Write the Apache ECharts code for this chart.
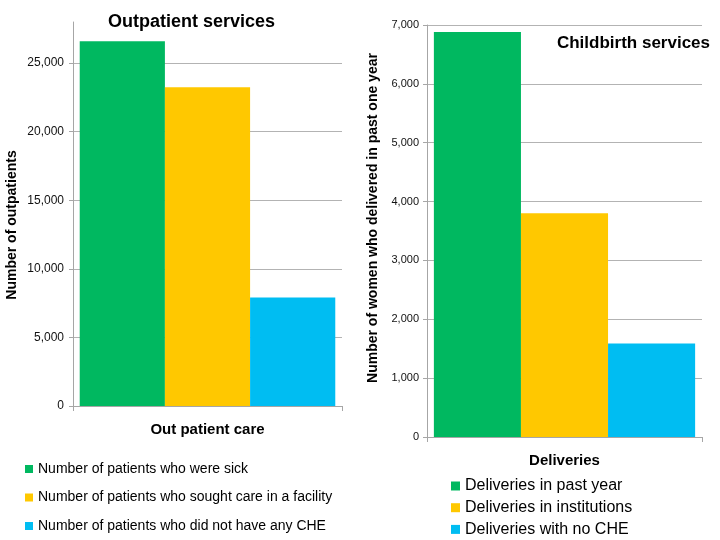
<!DOCTYPE html>
<html><head><meta charset="utf-8">
<script src="https://cdn.jsdelivr.net/npm/echarts@6/dist/echarts.min.js"></script>
<style>html,body{margin:0;padding:0;background:#fff}#c{width:720px;height:540px}</style>
</head><body><div id="c"></div>
<script>
const opCategories = ['Out patient care'];
const opSeriesNames = ['Number of patients who were sick','Number of patients who sought care in a facility','Number of patients who did not have any CHE'];
const opValues = [26600, 23250, 7920];
const cbCategories = ['Deliveries'];
const cbSeriesNames = ['Deliveries in past year','Deliveries in institutions','Deliveries with no CHE'];
const cbValues = [6880, 3800, 1590];
const colors = ['#00b860','#ffc800','#00bdf2'];

const FONT = 'Liberation Sans, Arial, sans-serif';
const fmt = v => Number(v).toLocaleString('en-US');
const chart = echarts.init(document.getElementById('c'));

function makeSeries(names, vals, idx){
  return names.map((n,i)=>({
    name:n, type:'bar', xAxisIndex:idx, yAxisIndex:idx,
    data:[vals[i]], barGap:'0%', barCategoryGap:'5%',
    itemStyle:{color:colors[i]}
  }));
}

const legends = [];
opSeriesNames.forEach((n,i)=>legends.push({data:[n], orient:'vertical', left:25, top:462 + i*28.5, padding:0,
  itemWidth:8, itemHeight:8, itemGap:10, textStyle:{fontSize:14, color:'#000', fontFamily:FONT}, icon:'rect'}));
cbSeriesNames.forEach((n,i)=>legends.push({data:[n], orient:'vertical', left:451, top:478 + i*21.7, padding:0,
  itemWidth:9, itemHeight:9, textStyle:{fontSize:16, color:'#000', fontFamily:FONT}, icon:'rect'}));

chart.setOption({
  animation:false,
  textStyle:{fontFamily:FONT},
  title:[
    {text:'Outpatient services', left:103, top:8, textStyle:{fontSize:18, fontWeight:'bold', color:'#000', fontFamily:FONT}},
    {text:'Childbirth services', right:5, top:30, textStyle:{fontSize:17, fontWeight:'bold', color:'#000', fontFamily:FONT}}
  ],
  grid:[
    {left:73, right:378, top:22, bottom:134},
    {left:427, right:18, top:25, bottom:103}
  ],
  xAxis:[
    {type:'category', gridIndex:0, data:opCategories,
     axisLine:{lineStyle:{color:'#a6a6a6'}}, axisTick:{show:true, length:5, lineStyle:{color:'#a6a6a6'}},
     axisLabel:{margin:16, fontSize:15, fontWeight:'bold', color:'#000', fontFamily:FONT}},
    {type:'category', gridIndex:1, data:cbCategories,
     axisLine:{lineStyle:{color:'#a6a6a6'}}, axisTick:{show:true, length:5, lineStyle:{color:'#a6a6a6'}},
     axisLabel:{margin:16, fontSize:15, fontWeight:'bold', color:'#000', fontFamily:FONT}}
  ],
  yAxis:[
    {type:'value', gridIndex:0, min:0, max:28000, interval:5000,
     name:'Number of outpatients', nameLocation:'middle', nameGap:54, nameRotate:90,
     nameTextStyle:{fontSize:14, fontWeight:'bold', color:'#000', fontFamily:FONT, padding:[0,22,0,0]},
     axisLine:{show:true, lineStyle:{color:'#a6a6a6'}}, axisTick:{show:true, length:4, lineStyle:{color:'#a6a6a6'}},
     axisLabel:{formatter:fmt, fontSize:12, color:'#111', margin:9, showMaxLabel:false, fontFamily:FONT},
     splitLine:{show:true, showMaxLine:false, lineStyle:{color:'#b3b3b3'}}},
    {type:'value', gridIndex:1, min:0, max:7000, interval:1000,
     name:'Number of women who delivered in past one year', nameLocation:'middle', nameGap:47, nameRotate:90,
     nameTextStyle:{fontSize:14, fontWeight:'bold', color:'#000', fontFamily:FONT, padding:[0,0,0,26]},
     axisLine:{show:true, lineStyle:{color:'#a6a6a6'}}, axisTick:{show:true, length:4, lineStyle:{color:'#a6a6a6'}},
     axisLabel:{formatter:fmt, fontSize:11, color:'#111', margin:8, fontFamily:FONT},
     splitLine:{show:true, lineStyle:{color:'#b3b3b3'}}}
  ],
  legend:legends,
  series:[...makeSeries(opSeriesNames, opValues, 0), ...makeSeries(cbSeriesNames, cbValues, 1)]
});
</script></body></html>
